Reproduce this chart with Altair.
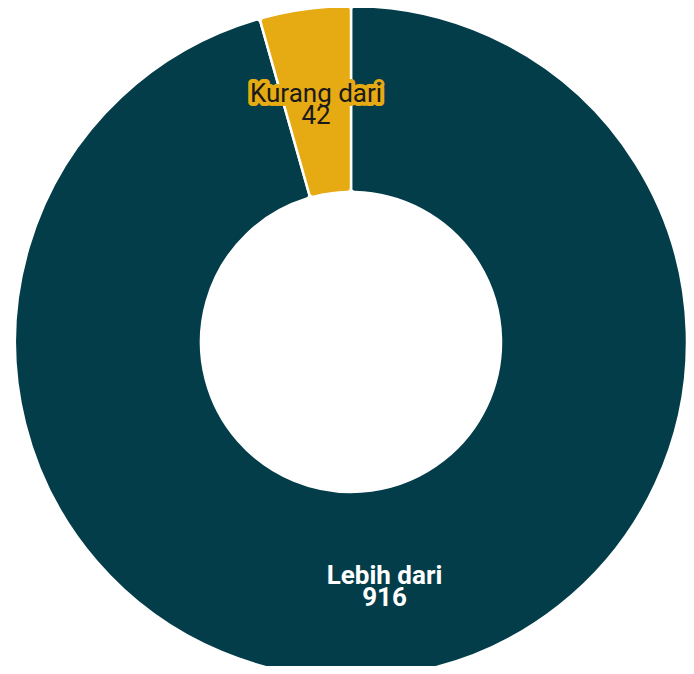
import altair as alt
import pandas as pd

categories = ["Lebih dari", "Kurang dari"]
values = [916, 42]
order = [1, 2]
colors = ["#033d4a", "#e6aa12"]

df = pd.DataFrame({"category": categories, "value": values, "order": order})

base = alt.Chart(df).transform_window(
    cum="sum(value)", sort=[alt.SortField("order")]
).transform_joinaggregate(
    total="sum(value)"
).transform_calculate(
    start="(datum.cum - datum.value) / datum.total",
    end="datum.cum / datum.total",
    mid="(datum.cum - datum.value / 2) / datum.total",
    label="datum.category + '\\n' + datum.value",
)

theta_scale = alt.Scale(domain=[0, 1])
cx = alt.value(343)
cy = alt.value(334)

arcs = base.mark_arc(
    outerRadius=336, innerRadius=150, stroke="white", strokeWidth=2.5, cornerRadius=4
).encode(
    x=cx, y=cy,
    theta=alt.Theta("start:Q", scale=theta_scale),
    theta2="end:Q",
    color=alt.Color("category:N", scale=alt.Scale(domain=categories, range=colors), legend=None),
)

halo = base.transform_filter(alt.datum.category == "Kurang dari").mark_text(
    radius=240, dy=-10, dx=-2, font="Roboto", fontSize=26, lineBreak="\n", lineHeight=22,
    fill="#e6aa12", stroke="#e6aa12", strokeWidth=8, strokeJoin="round",
).encode(
    x=cx, y=cy,
    theta=alt.Theta("mid:Q", scale=theta_scale),
    text="label:N",
)

text_small = base.transform_filter(alt.datum.category == "Kurang dari").mark_text(
    radius=240, dy=-10, dx=-2, font="Roboto", fontSize=26, lineBreak="\n", lineHeight=22, fill="#1a1a1a",
).encode(
    x=cx, y=cy,
    theta=alt.Theta("mid:Q", scale=theta_scale),
    text="label:N",
)

text_big = base.transform_filter(alt.datum.category == "Lebih dari").mark_text(
    radius=244, dy=-8, font="Roboto", fontSize=26, fontWeight="bold", lineBreak="\n", lineHeight=22, fill="white",
).encode(
    x=cx, y=cy,
    theta=alt.Theta("mid:Q", scale=theta_scale),
    text="label:N",
)

chart = alt.layer(arcs, halo, text_small, text_big).properties(
    width=678, height=658, padding=0, autosize="none"
).configure_view(stroke=None)

chart.save("out.html", embed_options={"renderer": "svg", "actions": False})
